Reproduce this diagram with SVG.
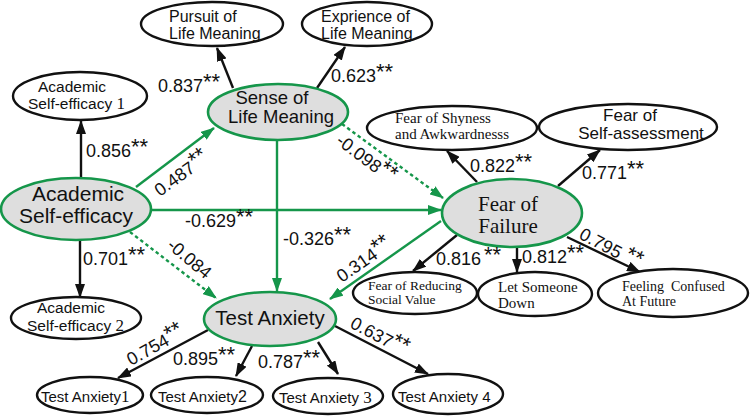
<svg xmlns="http://www.w3.org/2000/svg" width="750" height="419" viewBox="0 0 750 419">
<style>
.obs{fill:#fff;stroke:#111;stroke-width:2.4}
.lat{fill:#dedede;stroke:#15964a;stroke-width:2.6}
.s{font-family:"Liberation Sans",Arial,sans-serif;fill:#111}
.r{font-family:"Liberation Serif","Times New Roman",serif;fill:#111}
.lb{font-family:"Liberation Sans",Arial,sans-serif;font-size:18px;fill:#111}
.st{font-size:22px}
.bk{stroke:#111;stroke-width:2.4;fill:none;marker-end:url(#ab)}
.gr{stroke:#15964a;stroke-width:2.4;fill:none;marker-end:url(#ag)}
.gd{stroke:#15964a;stroke-width:2.4;fill:none;stroke-dasharray:3.5 3;marker-end:url(#ag)}
</style>
<defs>
<marker id="ab" viewBox="0 0 14 10" refX="13" refY="5" markerWidth="14" markerHeight="10" markerUnits="userSpaceOnUse" orient="auto"><path d="M0,0 L14,5 L0,10 z" fill="#111"/></marker>
<marker id="ag" viewBox="0 0 14 10" refX="13" refY="5" markerWidth="14" markerHeight="10" markerUnits="userSpaceOnUse" orient="auto"><path d="M0,0 L14,5 L0,10 z" fill="#15964a"/></marker>
</defs>
<rect width="750" height="419" fill="#fff"/>

<g id="connectors">
<line class="bk" x1="233" y1="88" x2="217" y2="48"/>
<line class="bk" x1="317" y1="88" x2="345" y2="47"/>
<line class="bk" x1="81" y1="178" x2="81" y2="121"/>
<line class="bk" x1="80" y1="241" x2="80" y2="297"/>
<line class="bk" x1="477" y1="182" x2="447" y2="151"/>
<line class="bk" x1="558" y1="186" x2="600" y2="150"/>
<line class="bk" x1="457" y1="235" x2="413" y2="271"/>
<line class="bk" x1="517" y1="247" x2="517" y2="272"/>
<line class="bk" x1="567" y1="237" x2="640" y2="272"/>
<line class="bk" x1="208" y1="330" x2="118" y2="378"/>
<line class="bk" x1="252" y1="346" x2="236" y2="376"/>
<line class="bk" x1="318" y1="342" x2="338" y2="374"/>
<line class="bk" x1="335" y1="326" x2="428" y2="374"/>
<line class="gr" x1="136" y1="187" x2="214" y2="128"/>
<line class="gr" x1="152" y1="210" x2="441" y2="210"/>
<line class="gr" x1="277" y1="140" x2="277" y2="291"/>
<line class="gr" x1="441" y1="221" x2="330" y2="299"/>
<line class="gd" x1="342" y1="124" x2="443" y2="198"/>
<line class="gd" x1="130" y1="232" x2="216" y2="298"/>
</g>

<g id="pursuit">
<ellipse class="obs" cx="212" cy="24" rx="71" ry="22"/>
<text class="s" font-size="16" x="169" y="22">Pursuit of</text>
<text class="s" font-size="16" x="169" y="39">Life Meaning</text>
</g>
<g id="exprience">
<ellipse class="obs" cx="367" cy="24" rx="65" ry="22"/>
<text class="s" font-size="16" x="321" y="22">Exprience of</text>
<text class="s" font-size="16" x="321" y="39">Life Meaning</text>
</g>
<g id="ase1">
<ellipse class="obs" cx="80" cy="96" rx="67" ry="24"/>
<text class="s" font-size="15.5" x="72" y="92" text-anchor="middle">Academic</text>
<text class="s" font-size="15.5" x="28" y="109">Self-efficacy <tspan class="r" font-size="17">1</tspan></text>
</g>
<g id="slm">
<ellipse class="lat" cx="278" cy="112" rx="70" ry="28"/>
<text class="s" font-size="18.5" x="272" y="104" text-anchor="middle">Sense of</text>
<text class="s" font-size="18.5" x="281" y="123" text-anchor="middle">Life Meaning</text>
</g>
<g id="shyness">
<ellipse class="obs" cx="452" cy="128" rx="85" ry="22"/>
<text class="r" font-size="15" x="395" y="123">Fear of Shyness</text>
<text class="r" font-size="15" x="395" y="139">and Awkwardnesss</text>
</g>
<g id="selfassess">
<ellipse class="obs" cx="628" cy="127" rx="89" ry="23"/>
<text class="s" font-size="17" x="630" y="121" text-anchor="middle">Fear of</text>
<text class="s" font-size="17" x="641" y="139" text-anchor="middle">Self-assessment</text>
</g>
<g id="ase">
<ellipse class="lat" cx="76" cy="209" rx="75" ry="31"/>
<text class="s" font-size="21" x="78" y="201" text-anchor="middle">Academic</text>
<text class="s" font-size="21" x="76" y="223" text-anchor="middle">Self-efficacy</text>
</g>
<g id="fof">
<ellipse class="lat" cx="512" cy="213" rx="70" ry="34"/>
<text class="r" font-size="21" x="508" y="211" text-anchor="middle">Fear of</text>
<text class="r" font-size="21" x="508" y="233" text-anchor="middle">Failure</text>
</g>
<g id="reducing">
<ellipse class="obs" cx="415" cy="293" rx="62" ry="21"/>
<text class="r" font-size="13.5" x="368" y="290">Fear of Reducing</text>
<text class="r" font-size="13.5" x="368" y="304">Social Value</text>
</g>
<g id="letdown">
<ellipse class="obs" cx="535" cy="294" rx="57" ry="22"/>
<text class="r" font-size="15" x="498" y="292">Let Someone</text>
<text class="r" font-size="15" x="498" y="308">Down</text>
</g>
<g id="confused">
<ellipse class="obs" cx="673" cy="293" rx="75" ry="24"/>
<text class="r" font-size="14" x="622" y="291" xml:space="preserve">Feeling  Confused</text>
<text class="r" font-size="14" x="622" y="306">At Future</text>
</g>
<g id="ase2">
<ellipse class="obs" cx="76" cy="318" rx="65" ry="21"/>
<text class="s" font-size="15.5" x="71" y="313" text-anchor="middle">Academic</text>
<text class="s" font-size="15.5" x="27" y="331">Self-efficacy <tspan class="r" font-size="17">2</tspan></text>
</g>
<g id="ta">
<ellipse class="lat" cx="270" cy="319" rx="66" ry="27"/>
<text class="s" font-size="20.5" x="270" y="325" text-anchor="middle">Test Anxiety</text>
</g>
<g id="ta1">
<ellipse class="obs" cx="90" cy="395" rx="53" ry="18"/>
<text class="s" font-size="15" x="41" y="402">Test Anxiety<tspan class="r" font-size="17">1</tspan></text>
</g>
<g id="ta2">
<ellipse class="obs" cx="207" cy="395" rx="56" ry="18"/>
<text class="s" font-size="15" x="158" y="402">Test Anxiety<tspan font-size="16">2</tspan></text>
</g>
<g id="ta3">
<ellipse class="obs" cx="328" cy="396" rx="55" ry="18"/>
<text class="s" font-size="15" x="279" y="403">Test Anxiety <tspan class="r" font-size="17">3</tspan></text>
</g>
<g id="ta4">
<ellipse class="obs" cx="448" cy="394" rx="55" ry="20"/>
<text class="s" font-size="15" x="398" y="402">Test Anxiety 4</text>
</g>

<g id="labels">
<text class="lb" x="158" y="92">0.837<tspan class="st" dy="-3">**</tspan></text>
<text class="lb" x="331" y="82">0.623<tspan class="st" dy="-3">**</tspan></text>
<text class="lb" x="86" y="157">0.856<tspan class="st" dy="-3">**</tspan></text>
<text class="lb" x="470" y="172">0.822<tspan class="st" dy="-3">**</tspan></text>
<text class="lb" x="582" y="179">0.771<tspan class="st" dy="-3">**</tspan></text>
<text class="lb" x="185" y="227">-0.629<tspan class="st" dy="-3">**</tspan></text>
<text class="lb" x="283" y="245">-0.326<tspan class="st" dy="-3">**</tspan></text>
<text class="lb" x="83" y="265">0.701<tspan class="st" dy="-3">**</tspan></text>
<text class="lb" x="436" y="265">0.816<tspan class="st" dx="3" dy="-3">**</tspan></text>
<text class="lb" x="522" y="263">0.812<tspan class="st" dy="-3">**</tspan></text>
<text class="lb" x="173" y="365">0.895<tspan class="st" dy="-3">**</tspan></text>
<text class="lb" x="258" y="368">0.787<tspan class="st" dy="-3">**</tspan></text>
<text class="lb" x="160" y="197" transform="rotate(-36 160 197)">0.487<tspan class="st" dy="-3">**</tspan></text>
<text class="lb" x="335" y="143" transform="rotate(37 335 143)">-0.098<tspan class="st" dy="-3">**</tspan></text>
<text class="lb" x="166" y="247" transform="rotate(40 166 247)">-0.084</text>
<text class="lb" x="342" y="283" transform="rotate(-35 342 283)">0.314<tspan class="st" dy="-3">**</tspan></text>
<text class="lb" x="578" y="238" transform="rotate(28 578 238)">0.795 <tspan class="st" dy="-3">**</tspan></text>
<text class="lb" x="131" y="366" transform="rotate(-29 131 366)">0.754<tspan class="st" dy="-3">**</tspan></text>
<text class="lb" x="349" y="327" transform="rotate(28 349 327)">0.637<tspan class="st" dy="-3">**</tspan></text>
</g>
</svg>
